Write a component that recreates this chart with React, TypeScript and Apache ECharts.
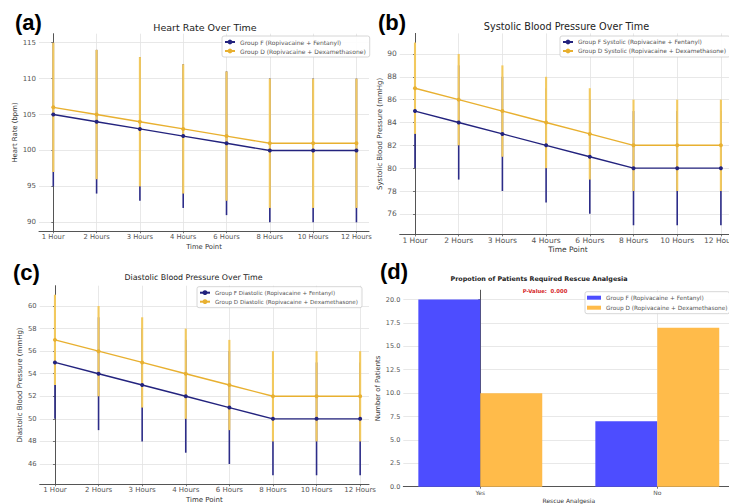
import React, { useEffect, useRef } from "react";
import * as echarts from "echarts";

const timePoints = ["1 Hour", "2 Hours", "3 Hours", "4 Hours", "6 Hours", "8 Hours", "10 Hours", "12 Hours"];
const timeIdx = [0, 1, 2, 3, 4, 5, 6, 7];

const hrF = [105, 104, 103, 102, 101, 100, 100, 100];
const hrFErr = [10, 10, 10, 10, 10, 10, 10, 10];
const hrD = [106, 105, 104, 103, 102, 101, 101, 101];
const hrDErr = [9, 9, 9, 9, 9, 9, 9, 9];

const sbpF = [85, 84, 83, 82, 81, 80, 80, 80];
const sbpFErr = [5, 5, 5, 5, 5, 5, 5, 5];
const sbpD = [87, 86, 85, 84, 83, 82, 82, 82];
const sbpDErr = [4, 4, 4, 4, 4, 4, 4, 4];

const dbpF = [55, 54, 53, 52, 51, 50, 50, 50];
const dbpFErr = [5, 5, 5, 5, 5, 5, 5, 5];
const dbpD = [57, 56, 55, 54, 53, 52, 52, 52];
const dbpDErr = [4, 4, 4, 4, 4, 4, 4, 4];

const rescueCats = ["Yes", "No"];
const rescueIdx = [0, 1];
const rescueF = [20, 7];
const rescueD = [10, 17];

const hrTicks = [90, 95, 100, 105, 110, 115];
const sbpTicks = [76, 78, 80, 82, 84, 86, 88, 90];
const dbpTicks = [46, 48, 50, 52, 54, 56, 58, 60];
const countTicks = [0, 2.5, 5, 7.5, 10, 12.5, 15, 17.5, 20];

const NAME_F = "Group F (Ropivacaine + Fentanyl)";
const NAME_D = "Group D (Ropivacaine + Dexamethasone)";
const NAME_FS = "Group F Systolic (Ropivacaine + Fentanyl)";
const NAME_DS = "Group D Systolic (Ropivacaine + Dexamethasone)";
const NAME_FD = "Group F Diastolic (Ropivacaine + Fentanyl)";
const NAME_DD = "Group D Diastolic (Ropivacaine + Dexamethasone)";

const FONT = '"DejaVu Sans", "Liberation Sans", Arial, sans-serif';
const NAVY = "#23237e";
const NAVY_ERR = "#2c2c88";
const GOLD = "#e8b030";
const GOLD_ERR = "#f2c95e";
const BAR_BLUE = "#4d4dff";
const BAR_ORANGE = "#ffbb4a";
const AXIS_COLOR = "#555";
const GRID_COLOR = "#e2e2e2";
const LABEL_COLOR = "#555";

function xTimeAxis(gridIndex: number, min: number, max: number, fs: number, nameGap: number) {
  return {
    type: "value",
    gridIndex,
    min,
    max,
    name: "Time Point",
    nameLocation: "middle",
    nameGap,
    nameTextStyle: { fontSize: fs, color: "#333", fontFamily: FONT },
    axisLine: { show: true, lineStyle: { color: AXIS_COLOR, width: 1 } },
    axisTick: { show: true, length: 2, customValues: timeIdx, lineStyle: { color: AXIS_COLOR, width: 0.8 } },
    axisLabel: {
      show: true,
      customValues: timeIdx,
      margin: 2.5,
      fontSize: fs,
      color: LABEL_COLOR,
      fontFamily: FONT,
      formatter: (v: number) => timePoints[Math.round(v)] ?? "",
    },
    splitLine: { show: true, lineStyle: { color: GRID_COLOR, width: 0.8 } },
  };
}

function yAxis(
  gridIndex: number,
  min: number,
  max: number,
  ticks: number[],
  name: string,
  fs: number,
  nameFs: number,
  nameGap: number,
  fmt?: (v: number) => string
) {
  return {
    type: "value",
    gridIndex,
    min,
    max,
    name,
    nameLocation: "middle",
    nameGap,
    nameTextStyle: { fontSize: nameFs, color: "#333", fontFamily: FONT },
    axisLine: { show: true, lineStyle: { color: AXIS_COLOR, width: 1 } },
    axisTick: { show: true, length: 2, customValues: ticks, lineStyle: { color: AXIS_COLOR, width: 0.8 } },
    axisLabel: {
      show: true,
      customValues: ticks,
      margin: 3,
      fontSize: fs,
      color: LABEL_COLOR,
      fontFamily: FONT,
      formatter: fmt ?? ((v: number) => String(v)),
    },
    splitLine: { show: true, lineStyle: { color: GRID_COLOR, width: 0.8 } },
  };
}

function errSeries(idx: number, mean: number[], err: number[], color: string, width: number) {
  return {
    type: "custom",
    name: "err" + idx + color,
    xAxisIndex: idx,
    yAxisIndex: idx,
    silent: true,
    clip: false,
    encode: { x: 0, y: 1 },
    data: mean.map((m, i) => [timeIdx[i], m, err[i]]),
    renderItem: (_p: any, api: any) => {
      const x = api.value(0);
      const m = api.value(1);
      const e = api.value(2);
      const p1 = api.coord([x, m - e]);
      const p2 = api.coord([x, m + e]);
      return {
        type: "line",
        shape: { x1: p1[0], y1: p1[1], x2: p2[0], y2: p2[1] },
        style: { stroke: color, lineWidth: width },
      };
    },
  };
}

function lineSeries(idx: number, name: string, mean: number[], color: string) {
  return {
    type: "line",
    name,
    xAxisIndex: idx,
    yAxisIndex: idx,
    silent: true,
    symbol: "circle",
    symbolSize: 4,
    showSymbol: true,
    data: mean.map((m, i) => [timeIdx[i], m]),
    lineStyle: { color, width: 1.4 },
    itemStyle: { color },
    emphasis: { disabled: true },
  };
}

function barSeries(name: string, values: number[], offset: number, color: string) {
  return {
    type: "custom",
    name,
    xAxisIndex: 3,
    yAxisIndex: 3,
    silent: true,
    encode: { x: 0, y: 1 },
    itemStyle: { color },
    data: values.map((v, i) => [rescueIdx[i], v]),
    renderItem: (_p: any, api: any) => {
      const x = api.value(0);
      const v = api.value(1);
      const a = api.coord([x + offset - 0.175, v]);
      const b = api.coord([x + offset + 0.175, 0]);
      return {
        type: "rect",
        shape: { x: a[0], y: a[1], width: b[0] - a[0], height: b[1] - a[1] },
        style: { fill: color },
      };
    },
  };
}

function legend(left: number, top: number, names: string[], fs: number, extra: any = {}) {
  return {
    orient: "vertical",
    left,
    top,
    padding: [3, 4, 3, 2],
    itemGap: 3,
    itemWidth: 10,
    itemHeight: 6,
    backgroundColor: "rgba(255,255,255,0.9)",
    borderColor: "#cccccc",
    borderWidth: 0.8,
    borderRadius: 2,
    selectedMode: false,
    textStyle: { fontSize: fs, color: LABEL_COLOR, fontFamily: FONT },
    data: names,
    ...extra,
  };
}

function txt(text: string, x: number, y: number, size: number, opts: any = {}) {
  return {
    type: "text",
    x,
    y,
    z: 100,
    silent: true,
    style: {
      text,
      fontSize: size,
      fontFamily: opts.family ?? FONT,
      fontWeight: opts.weight ?? "normal",
      fill: opts.fill ?? "#222",
      align: opts.align ?? "center",
      verticalAlign: "middle",
      textAlign: opts.align ?? "center",
      textVerticalAlign: "middle",
    },
  };
}

export default function App() {
  const ref = useRef<HTMLDivElement>(null);

  useEffect(() => {
    document.body.style.margin = "0";
    if (!ref.current) return;
    const chart = echarts.init(ref.current, undefined, { renderer: "svg" });

    const option: any = {
      animation: false,
      backgroundColor: "#ffffff",
      textStyle: { fontFamily: FONT },
      grid: [
        { left: 39, top: 33.7, width: 330, height: 197.6, outerBoundsMode: "none", containLabel: false },
        { left: 399.7, top: 33.4, width: 336.5, height: 201, outerBoundsMode: "none", containLabel: false },
        { left: 39.7, top: 285.7, width: 329.3, height: 198.6, outerBoundsMode: "none", containLabel: false },
        { left: 403.3, top: 290.2, width: 331, height: 196.5, outerBoundsMode: "none", containLabel: false },
      ],
      xAxis: [
        xTimeAxis(0, -0.33, 7.29, 6.8, 12),
        xTimeAxis(1, -0.35, 7.35, 7.5, 11),
        xTimeAxis(2, -0.35, 7.203, 7, 12),
        {
          type: "value",
          gridIndex: 3,
          min: -0.435,
          max: 1.435,
          name: "Rescue Analgesia",
          nameLocation: "middle",
          nameGap: 10.5,
          nameTextStyle: { fontSize: 6, color: "#333", fontFamily: FONT },
          axisLine: { show: true, lineStyle: { color: AXIS_COLOR, width: 1 } },
          axisTick: { show: true, length: 2, customValues: rescueIdx, lineStyle: { color: AXIS_COLOR, width: 0.8 } },
          axisLabel: {
            show: true,
            customValues: rescueIdx,
            margin: 2.5,
            fontSize: 6,
            color: LABEL_COLOR,
            fontFamily: FONT,
            formatter: (v: number) => rescueCats[Math.round(v)] ?? "",
          },
          splitLine: { show: true, lineStyle: { color: GRID_COLOR, width: 0.8 } },
        },
      ],
      yAxis: [
        yAxis(0, 88.75, 116.25, hrTicks, "Heart Rate (bpm)", 7, 6.9, 17),
        yAxis(1, 74.2, 91.8, sbpTicks, "Systolic Blood Pressure (mmHg)", 7.5, 7, 15),
        yAxis(2, 44.2, 61.8, dbpTicks, "Diastolic Blood Pressure (mmHg)", 6.8, 7, 16),
        yAxis(3, 0, 21, countTicks, "Number of Patients", 6.5, 6.8, 21, (v: number) => v.toFixed(1)),
      ],
      legend: [
        legend(222, 36, [NAME_F, NAME_D], 6),
        legend(560, 36, [NAME_FS, NAME_DS], 5.9),
        legend(197, 286.7, [NAME_FD, NAME_DD], 5.6),
        legend(585, 291.7, [], 5.8, {
          itemWidth: 14,
          itemHeight: 4,
          itemGap: 4,
          padding: [3, 2, 3, 2],
          data: [
            { name: NAME_F, icon: "rect", itemStyle: { color: BAR_BLUE } },
            { name: NAME_D, icon: "rect", itemStyle: { color: BAR_ORANGE } },
          ],
        }),
      ],
      series: [
        errSeries(0, hrF, hrFErr, NAVY_ERR, 1.6),
        lineSeries(0, NAME_F, hrF, NAVY),
        errSeries(0, hrD, hrDErr, GOLD_ERR, 2.1),
        lineSeries(0, NAME_D, hrD, GOLD),
        errSeries(1, sbpF, sbpFErr, NAVY_ERR, 1.6),
        lineSeries(1, NAME_FS, sbpF, NAVY),
        errSeries(1, sbpD, sbpDErr, GOLD_ERR, 2.1),
        lineSeries(1, NAME_DS, sbpD, GOLD),
        errSeries(2, dbpF, dbpFErr, NAVY_ERR, 1.6),
        lineSeries(2, NAME_FD, dbpF, NAVY),
        errSeries(2, dbpD, dbpDErr, GOLD_ERR, 2.1),
        lineSeries(2, NAME_DD, dbpD, GOLD),
        barSeries(NAME_F, rescueF, -0.175, BAR_BLUE),
        barSeries(NAME_D, rescueD, 0.175, BAR_ORANGE),
      ],
      graphic: [
        txt("(a)", 15, 22, 22, { weight: "bold", align: "left", fill: "#000", family: '"Liberation Sans", Arial, sans-serif' }),
        txt("(b)", 378, 22, 22, { weight: "bold", align: "left", fill: "#000", family: '"Liberation Sans", Arial, sans-serif' }),
        txt("(c)", 13, 272.5, 22, { weight: "bold", align: "left", fill: "#000", family: '"Liberation Sans", Arial, sans-serif' }),
        txt("(d)", 380, 271, 22, { weight: "bold", align: "left", fill: "#000", family: '"Liberation Sans", Arial, sans-serif' }),
        txt("Heart Rate Over Time", 205, 27, 9.5),
        txt("Systolic Blood Pressure Over Time", 566.5, 26.7, 9.7),
        txt("Diastolic Blood Pressure Over Time", 193.5, 277, 7.9),
        txt("Propotion of Patients Required Rescue Analgesia", 539, 279, 6.4, { weight: "bold" }),
        txt("P-Value:  0.000", 545, 291, 5.3, { weight: "bold", fill: "#d62728" }),
      ],
    };

    chart.setOption(option);
    return () => {
      chart.dispose();
    };
  }, []);

  return <div ref={ref} style={{ width: 729, height: 504 }} />;
}
